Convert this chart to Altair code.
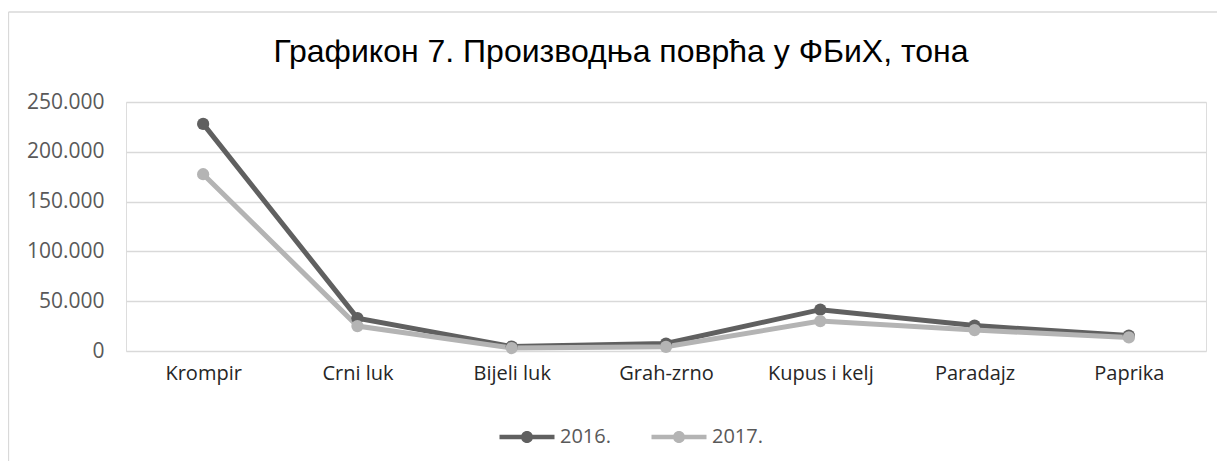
import altair as alt
import pandas as pd

categories = ["Krompir", "Crni luk", "Bijeli luk", "Grah-zrno", "Kupus i kelj", "Paradajz", "Paprika"]
series_names = ["2016.", "2017."]
values_2016 = [228000, 33000, 4500, 7500, 41500, 25500, 15500]
values_2017 = [177500, 25000, 3000, 4200, 30000, 21000, 13600]
y_ticks = [0, 50000, 100000, 150000, 200000, 250000]
colors = ["#606060", "#b4b4b4"]

rows = []
for s, vals in zip(series_names, [values_2016, values_2017]):
    for c, v in zip(categories, vals):
        rows.append({"category": c, "series": s, "value": v})
df = pd.DataFrame(rows)

LABEL_FONT = "Open Sans"

legend_path = ("M-2.5,-0.2H2.5V0.2H-2.5Z "
               "M0.55,0A0.55,0.55,0,1,1,-0.55,0A0.55,0.55,0,1,1,0.55,0Z")

x_enc = alt.X("category:N", sort=categories, title=None,
              axis=alt.Axis(labelAngle=0, ticks=False, domain=False,
                            labelFont=LABEL_FONT, labelFontSize=20,
                            labelColor="#262626", labelPadding=12, grid=False))
y_enc = alt.Y("value:Q", title=None,
              scale=alt.Scale(domain=[0, 250000], nice=False),
              axis=alt.Axis(values=y_ticks, ticks=False, domain=False,
                            labelFont=LABEL_FONT, labelFontSize=21,
                            labelColor="#595959", labelPadding=22,
                            gridColor="#d9d9d9", gridWidth=1.3,
                            labelExpr="replace(format(datum.value, ','), ',', '.')"))
color_enc = alt.Color("series:N", title=None,
                      scale=alt.Scale(domain=series_names, range=colors),
                      legend=alt.Legend(orient="none", legendX=390, legendY=324,
                                        direction="horizontal",
                                        symbolType=legend_path, symbolSize=484,
                                        symbolStrokeWidth=0,
                                        labelFont=LABEL_FONT, labelFontSize=20,
                                        labelColor="#595959", labelOffset=22,
                                        columnPadding=40, padding=0))

base = alt.Chart(df)
lines = base.mark_line(strokeWidth=5).encode(x=x_enc, y=y_enc, color=color_enc)
points = base.mark_point(filled=True, size=150, opacity=1).encode(
    x=x_enc, y=y_enc, color=color_enc, fill=alt.Fill("series:N", scale=alt.Scale(domain=series_names, range=colors), legend=None))

frame_left = alt.Chart(alt.Data(values=[{}])).mark_rule(color="#d9d9d9", strokeWidth=1.3).encode(
    x=alt.value(-117.5), y=alt.value(-90), y2=alt.value(360))
frame_top = alt.Chart(alt.Data(values=[{}])).mark_rule(color="#d9d9d9", strokeWidth=1.3).encode(
    x=alt.value(-117.5), x2=alt.value(1092), y=alt.value(-90))

chart = alt.layer(frame_left, frame_top, lines, points).properties(
    width=1080, height=249,
    padding={"left": 118, "top": 94, "right": 11, "bottom": 110},
    autosize=alt.AutoSizeParams(type="none"),
    title=alt.TitleParams("Графикон 7. Производња поврћа у ФБиХ, тона",
                          font="Liberation Sans", fontSize=32, fontWeight="normal",
                          color="#000000", anchor="middle", dx=-45, offset=-83,
                          baseline="alphabetic"),
).configure_view(stroke=None).configure(background="white")

chart.save("out.html", embed_options={"renderer": "svg", "actions": False})
